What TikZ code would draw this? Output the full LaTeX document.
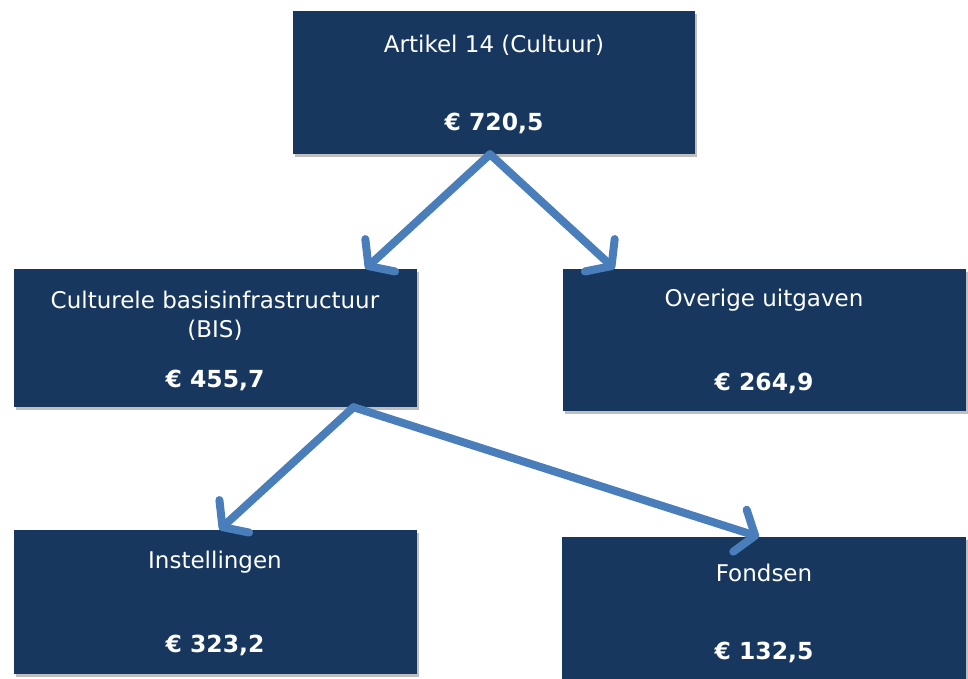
\documentclass[tikz,border=0pt]{standalone}
\usepackage{fontspec}
\setmainfont{DejaVu Sans}
\usetikzlibrary{arrows.meta,shadows}
\definecolor{boxblue}{HTML}{17375E}
\definecolor{arrowblue}{HTML}{4A7EBB}
\tikzset{
  box/.style={draw=none, fill=boxblue, rectangle, inner sep=0pt,
    drop shadow={shadow xshift=2pt, shadow yshift=-3pt, fill=black, opacity=0.25}},
  lbl/.style={text=white, font=\fontsize{23}{26}\selectfont, inner sep=0pt, anchor=center},
  val/.style={text=white, font=\fontsize{23.5}{26}\selectfont\bfseries, inner sep=0pt, anchor=center},
  conn/.style={draw=arrowblue, line width=8pt, line cap=round, line join=round,
    -{Straight Barb[length=16pt,width=44pt,line cap=round,round]}}
}
\begin{document}
\begin{tikzpicture}[x=1pt,y=-1pt]
\useasboundingbox (0,0) rectangle (968,678);
% boxes
\node[box, minimum width=402pt, minimum height=143pt] (top) at (494,82.5) {};
\node[box, minimum width=403pt, minimum height=138pt] (bis) at (215.5,338) {};
\node[box, minimum width=403pt, minimum height=142pt] (ov) at (764.5,340) {};
\node[box, minimum width=403pt, minimum height=144pt] (ins) at (215.5,602) {};
\node[box, minimum width=404pt, minimum height=150pt] (fon) at (764,612) {};
% texts
\node[lbl] (t1) at (494,45) {Artikel 14 (Cultuur)};
\node[val] (v1) at (494,123) {€ 720,5};
\node[lbl] (t2a) at (215,300) {Culturele basisinfrastructuur};
\node[lbl] (t2b) at (215,330) {(BIS)};
\node[val] (v2) at (215,380) {€ 455,7};
\node[lbl] (t3) at (764,300) {Overige uitgaven};
\node[val] (v3) at (764,383) {€ 264,9};
\node[lbl] (t4) at (215,562) {Instellingen};
\node[val] (v4) at (215,645) {€ 323,2};
\node[lbl] (t5) at (764,573) {Fondsen};
\node[val] (v5) at (764,652) {€ 132,5};
% connector end points
\coordinate (s1) at ([xshift=-4pt]top.south);
\coordinate (e1) at ([xshift=150pt]bis.north);
\coordinate (e2) at ([xshift=-150pt]ov.north);
\coordinate (s2) at ([xshift=138pt]bis.south);
\coordinate (e3) at ([xshift=4pt]ins.north);
\coordinate (e4) at ([xshift=-5pt]fon.north);
\draw[conn] (s1) -- (e1);
\draw[conn] (s1) -- (e2);
\draw[conn] (s2) -- (e3);
\draw[conn] (s2) -- (e4);
\end{tikzpicture}
\end{document}
